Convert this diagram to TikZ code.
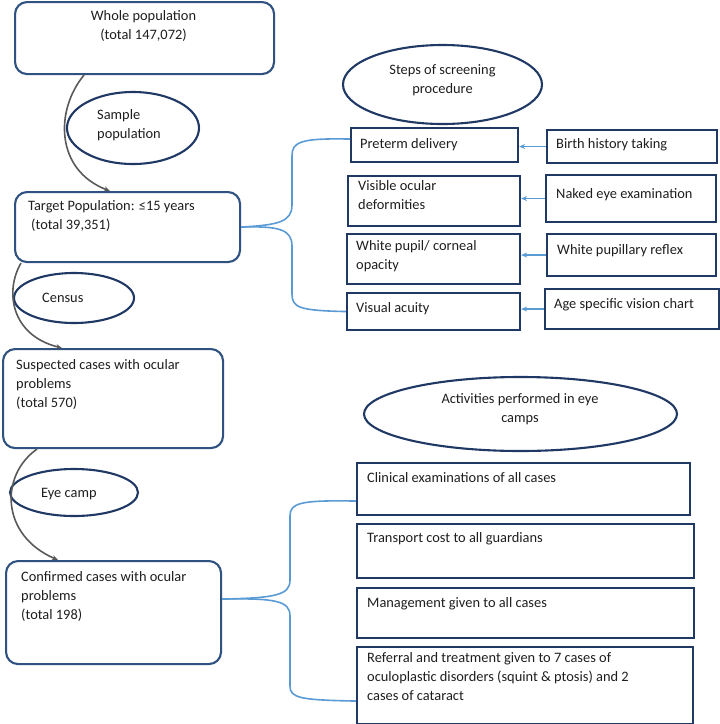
\documentclass[tikz,border=0pt]{standalone}
\usepackage{fontspec}
\setmainfont{Carlito}
\usetikzlibrary{shapes.geometric,arrows.meta,calc}
\definecolor{rboxc}{RGB}{47,82,128}
\definecolor{navy}{RGB}{31,56,100}
\definecolor{lblue}{RGB}{91,155,213}
\definecolor{agray}{RGB}{89,89,89}
\definecolor{txt}{RGB}{30,30,30}
\begin{document}
\begin{tikzpicture}[x=1pt,y=-1pt,
  rbox/.style={draw=rboxc,line width=2.1pt,rounded corners=12pt,anchor=north west,inner sep=0pt},
  sbox/.style={draw=navy,line width=2.1pt,anchor=north west,inner sep=0pt},
  ell/.style={draw=navy,line width=2.1pt,ellipse,inner sep=0pt},
  tx/.style={inner sep=0pt,text=txt,font=\fontsize{14.4}{19}\selectfont,execute at begin node=\strut},
  txl/.style={tx,anchor=north west,align=left},
  txc/.style={tx,anchor=north,align=center},
  garrow/.style={draw=agray,line width=1.6pt,-{Stealth[length=6pt,width=5pt]}},
  bline/.style={draw=lblue,line width=1.6pt},
  barrow/.style={draw=lblue,line width=1.6pt,-{Stealth[length=6pt,width=5pt]}}]
\useasboundingbox (0,0) rectangle (720,724);

% left column boxes
\node[rbox,minimum width=259pt,minimum height=72pt] (whole) at (14,1) {};
\node[rbox,minimum width=225pt,minimum height=70pt] (target) at (14,191) {};
\node[rbox,minimum width=220pt,minimum height=99pt] (susp) at (2,348) {};
\node[rbox,minimum width=215pt,minimum height=103pt] (conf) at (5,560) {};

% ellipses
\node[ell,minimum width=132pt,minimum height=72pt] (sample) at (133,128) {};
\node[ell,minimum width=120pt,minimum height=50pt] (census) at (74,298) {};
\node[ell,minimum width=128pt,minimum height=47pt] (eyecamp) at (74,492.5) {};
\node[ell,minimum width=199pt,minimum height=79pt] (steps) at (442.5,84.5) {};
\node[ell,minimum width=313pt,minimum height=74pt] (activ) at (520.5,414) {};

% screening boxes
\node[sbox,minimum width=167pt,minimum height=34pt] (preterm) at (350,127) {};
\node[sbox,minimum width=170pt,minimum height=33pt] (birth) at (546,129) {};
\node[sbox,minimum width=172pt,minimum height=50pt] (visible) at (347,175) {};
\node[sbox,minimum width=170pt,minimum height=47pt] (naked) at (545,174) {};
\node[sbox,minimum width=173pt,minimum height=50pt] (white) at (346,233) {};
\node[sbox,minimum width=169pt,minimum height=42pt] (reflex) at (546,233) {};
\node[sbox,minimum width=173pt,minimum height=37pt] (visual) at (346,292) {};
\node[sbox,minimum width=174pt,minimum height=40pt] (agechart) at (544,288) {};

% activity boxes
\node[sbox,minimum width=333pt,minimum height=52pt] (clin) at (356,462) {};
\node[sbox,minimum width=337pt,minimum height=54pt] (trans) at (356,523) {};
\node[sbox,minimum width=337pt,minimum height=50pt] (manag) at (356,587) {};
\node[sbox,minimum width=336pt,minimum height=77pt] (refer) at (356,646) {};

% texts
\node[txc] (t1) at (143.5,10.5) {Whole population\\(total 147,072)};
\node[txl] (t2) at (97,109.5) {Sample\\population};
\node[txl] (t3) at (28,200.5) {Target Population: ≤15 years\\\hspace*{3pt}(total 39,351)};
\node[txl] (t4) at (42,288.5) {Census};
\node[txl] (t5) at (16,359.5) {Suspected cases with ocular\\problems\\(total 570)};
\node[txl] (t6) at (41,483.5) {Eye camp};
\node[txl] (t7) at (21,571.5) {Confirmed cases with ocular\\problems\\(total 198)};
\node[txc] (t8) at (442.5,64.5) {Steps of screening\\procedure};
\node[txl] (t9) at (360,134.5) {Preterm delivery};
\node[txl] (t10) at (556,134.5) {Birth history taking};
\node[txl] (t11) at (358,180.5) {Visible ocular\\deformities};
\node[txl] (t12) at (556,184.5) {Naked eye examination};
\node[txl] (t13) at (356,240.5) {White pupil/ corneal\\opacity};
\node[txl] (t14) at (557,240.5) {White pupillary reflex};
\node[txl] (t15) at (356,298.5) {Visual acuity};
\node[txl] (t16) at (554,294.5) {Age specific vision chart};
\node[txc] (t17) at (520,393.5) {Activities performed in eye\\camps};
\node[txl] (t18) at (367,468.5) {Clinical examinations of all cases};
\node[txl] (t19) at (367,528.5) {Transport cost to all guardians};
\node[txl] (t20) at (367,593.5) {Management given to all cases};
\node[txl] (t21) at (367,652.5) {Referral and treatment given to 7 cases of\\oculoplastic disorders (squint \& ptosis) and 2\\cases of cataract};

% gray curved arrows
\draw[garrow] ([xshift=70pt]whole.south west) .. controls (55,110) and (55,170) .. ([xshift=96pt]target.north west);
\draw[garrow] ([xshift=7pt]target.south west) .. controls (5,290) and (10,335) .. ([xshift=60pt]susp.north west);
\draw[garrow] ([xshift=35pt]susp.south west) .. controls (0,475) and (0,535) .. ([xshift=53pt]conf.north west);

% blue braces
\draw[bline] (target.east) .. controls (278,225) and (292,222) .. (292,205) -- (292,156)
  .. controls (292,142) and (300,138) .. ([yshift=6pt]preterm.west);
\draw[bline] (target.east) .. controls (278,226) and (292,229) .. (292,246) -- (292,294)
  .. controls (292,308) and (300,310.5) .. (visual.west);
\draw[bline] ([yshift=13.5pt]conf.east) .. controls (276,598) and (290,595) .. (290,580) -- (290,516)
  .. controls (290,503) and (300,500) .. ([yshift=-12pt]clin.west);
\draw[bline] ([yshift=13.5pt]conf.east) .. controls (276,598) and (290,601) .. (290,616) -- (290,686)
  .. controls (290,698) and (300,700) .. ([yshift=-15.5pt]refer.west);

% blue short arrows
\draw[barrow] (birth.west) -- (birth.west -| preterm.east);
\draw[barrow] (naked.west) -- (naked.west -| visible.east);
\draw[barrow] (reflex.west) -- (reflex.west -| white.east);
\draw[barrow] (agechart.west) -- (agechart.west -| visual.east);
\end{tikzpicture}
\end{document}
